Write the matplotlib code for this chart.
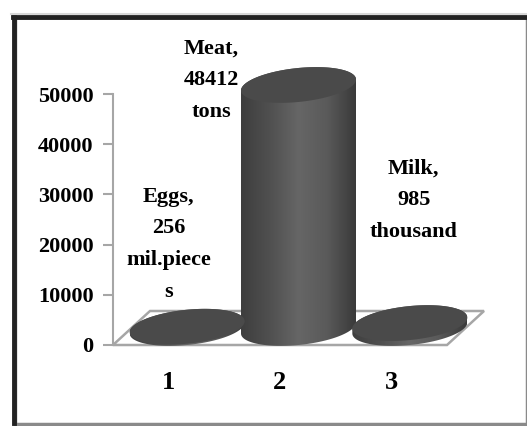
import numpy as np
import matplotlib
matplotlib.use('Agg')
import matplotlib.pyplot as plt
from matplotlib.colors import LinearSegmentedColormap
from matplotlib.lines import Line2D
from matplotlib.patches import Polygon, Rectangle
from matplotlib.transforms import IdentityTransform

categories = [1, 2, 3]
values = [256, 48412, 985]
labels = ['Eggs,\n256\nmil.piece\ns', 'Meat,\n48412\ntons', 'Milk,\n985\nthousand']
label_x = [1.0, 1.38, 3.2]
label_y = [20100, 52700, 28900]
y_ticks = [0, 10000, 20000, 30000, 40000, 50000]

W, H = 527, 426
plt.rcParams['font.family'] = ['Liberation Serif', 'DejaVu Serif']
plt.rcParams['font.weight'] = 'bold'

fig = plt.figure(figsize=(W / 100, H / 100), dpi=100, facecolor='white')

# plot box in pixels: x 113..447, y 94..345 from the top
ax = fig.add_axes([113 / W, (H - 345) / H, 334 / W, 251 / H])
ax.set_facecolor('none')
ax.set_xlim(0.5, 3.5)
ax.set_ylim(0, 50000)
ax.set_xticks(categories)
ax.set_yticks(y_ticks)
ax.tick_params(axis='x', length=0, pad=19, labelsize=19)
ax.tick_params(axis='y', length=7, width=1.5, color='#a6a6a6', pad=7, labelsize=16)
for s in ['top', 'right', 'bottom']:
    ax.spines[s].set_visible(False)
ax.spines['left'].set_color('#a6a6a6')
ax.spines['left'].set_linewidth(1.5)

# floor of the 3d box
x0, y0 = ax.transData.transform((0.5, 0))
x1, _ = ax.transData.transform((3.5, 0))
depth_x, depth_y = 37, 34
ax.add_patch(Polygon([(x0, y0), (x1, y0), (x1 + depth_x, y0 + depth_y), (x0 + depth_x, y0 + depth_y)],
                     closed=True, fill=False, ec='#a6a6a6', lw=1.8,
                     transform=IdentityTransform(), clip_on=False, zorder=1))

shade = LinearSegmentedColormap.from_list('cyl', ['#3e3e3e', '#505050', '#666666', '#5a5a5a', '#3a3a3a'])
a, b, tilt = 57.5, 17, 5.5
t = np.linspace(0, 2 * np.pi, 200)


def ring(cx, cy, tt):
    return np.column_stack([cx + a * np.cos(tt), cy + tilt * np.cos(tt) + b * np.sin(tt)])


for cat, val in zip(categories, values):
    cx, base = ax.transData.transform((cat, 0))
    cx += depth_x / 2
    base += depth_y / 2
    top = ax.transData.transform((cat, val))[1] + depth_y / 2
    # body: lower half of base ring, upper half of top ring
    lower = ring(cx, base, np.linspace(np.pi, 2 * np.pi, 100))
    upper = ring(cx, top, np.linspace(0, np.pi, 100))
    body = Polygon(np.vstack([lower, upper]), closed=True, transform=IdentityTransform())
    im = ax.imshow(np.linspace(0, 1, 128)[None, :], cmap=shade, aspect='auto', zorder=2,
                   extent=(cx - a, cx + a, base - 30, top + 30), transform=IdentityTransform())
    im.set_clip_path(body)
    im.set_clip_box(fig.bbox)
    ax.add_patch(Polygon(ring(cx, top, t), closed=True, fc='#4a4a4a', ec='none',
                         transform=IdentityTransform(), clip_on=False, zorder=3))

ax.set_xlim(0.5, 3.5)
ax.set_ylim(0, 50000)

for lx, ly, txt in zip(label_x, label_y, labels):
    ax.text(lx, ly, txt, ha='center', va='center', fontsize=16, fontweight='bold',
            linespacing=1.78, zorder=4, clip_on=False)

# picture frame with soft shadow
fig.add_artist(Rectangle((14.5 / W, 2 / H), 512 / W, (H - 19) / H, transform=fig.transFigure,
                         fill=False, ec='#8a8a8a', lw=2.5))
fig.add_artist(Line2D([14 / W, 14 / W], [3 / H, (H - 17) / H], color='#222222', lw=3.5))
fig.add_artist(Line2D([13 / W, 1], [(H - 17) / H, (H - 17) / H], color='#222222', lw=3.5))
fig.add_artist(Line2D([11 / W, 1], [(H - 14) / H, (H - 14) / H], color='#d8d8d8', lw=1.5))

fig.savefig('out.png', dpi=100)
